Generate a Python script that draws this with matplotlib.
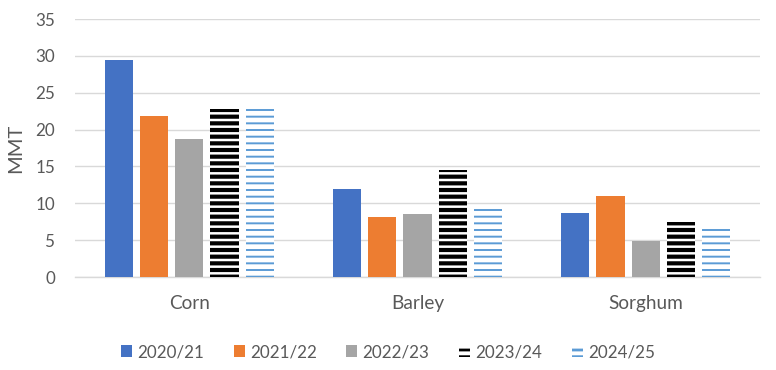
import matplotlib
matplotlib.use("Agg")
import matplotlib.pyplot as plt
import numpy as np

categories = ["Corn", "Barley", "Sorghum"]
series_labels = ["2020/21", "2021/22", "2022/23", "2023/24", "2024/25"]
v2020 = [29.5, 12.0, 8.7]
v2021 = [21.9, 8.2, 11.0]
v2022 = [18.7, 8.5, 4.9]
v2023 = [22.8, 14.5, 7.4]
v2024 = [22.8, 9.8, 7.0]
yticks = [0, 5, 10, 15, 20, 25, 30, 35]

DPI = 200
def fs(px):
    return px * 72.0 / DPI

plt.rcParams['font.family'] = ['Lato', 'DejaVu Sans']

fig = plt.figure(figsize=(776 / DPI, 370 / DPI), dpi=DPI)
ax = fig.add_axes([75 / 776, 1 - 277 / 370, (760 - 75) / 776, (277 - 19) / 370])

x = np.arange(len(categories))
pitch = 0.1546
width = 0.123
values = [v2020, v2021, v2022, v2023, v2024]
styles = [
    dict(color="#4472C4"),
    dict(color="#ED7D31"),
    dict(color="#A5A5A5"),
    dict(facecolor="white", edgecolor="black", hatch="-----", linewidth=0, hlw=1.5),
    dict(facecolor="white", edgecolor="#5B9BD5", hatch="-----", linewidth=0, hlw=0.7),
]
for i, (vals, st) in enumerate(zip(values, styles)):
    st = dict(st)
    hlw = st.pop("hlw", None)
    bars = ax.bar(x + (i - 2) * pitch, vals, width, label=series_labels[i], zorder=3, **st)
    if hlw is not None:
        for b in bars:
            if hasattr(b, "set_hatch_linewidth"):
                b.set_hatch_linewidth(hlw)

ax.set_xlim(-0.5, 2.5)
ax.set_ylim(0, 35)
ax.set_yticks(yticks)
ax.set_xticks(x)
ax.set_xticklabels(categories)
ax.yaxis.grid(True, color="#D9D9D9", linewidth=0.5, zorder=0)
ax.set_axisbelow(True)
for s in ["top", "right", "left"]:
    ax.spines[s].set_visible(False)
ax.spines["bottom"].set_color("#D9D9D9")
ax.spines["bottom"].set_linewidth(0.5)
ax.tick_params(axis="both", length=0, colors="#595959")
ax.tick_params(axis="y", labelsize=fs(17), pad=fs(20))
ax.tick_params(axis="x", labelsize=fs(19), pad=fs(18))
ax.set_ylabel("MMT", fontsize=fs(20), color="#595959")
ax.yaxis.set_label_coords((24 - 75) / 685, 0.5)

leg = fig.legend(loc="center", bbox_to_anchor=(388 / 776, 1 - 352 / 370), ncol=5, frameon=False,
                 fontsize=fs(17), handlelength=0.65, handleheight=0.65, handletextpad=0.3,
                 columnspacing=1.75, labelcolor="#595959")

fig.savefig("out.png", dpi=DPI)
